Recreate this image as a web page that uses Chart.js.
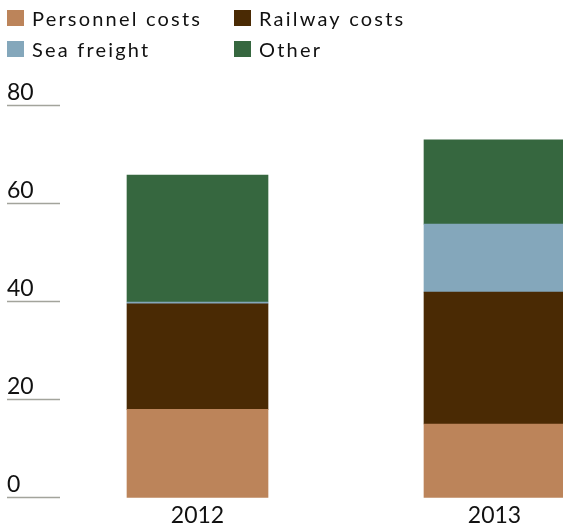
<!DOCTYPE html>
<html>
<head>
<meta charset="utf-8">
<script src="https://cdn.jsdelivr.net/npm/chart.js@4/dist/chart.umd.min.js"></script>
<style>
  html, body { margin: 0; padding: 0; background: #fff; }
  #wrap { position: relative; width: 563px; height: 527px; }
</style>
</head>
<body>
<div id="wrap"><canvas id="costChart"></canvas></div>
<script>
// Cost breakdown per year, stacked
const years = ['2012', '2013']
const personnelCosts = [18.0, 15.0]
const railwayCosts = [21.5, 26.9]
const seaFreight = [0.4, 13.9]
const otherCosts = [25.9, 17.2]
const yTicks = [0, 20, 40, 60, 80]

const FONT = 'Lato, "Open Sans", sans-serif'

// Short rules under each y value, labels sitting on top of them
const yRules = {
  id: 'yRules',
  afterDraw(chart) {
    const { ctx, scales: { y } } = chart
    ctx.save()
    ctx.strokeStyle = '#a3a49c'
    ctx.lineWidth = 1.5
    ctx.fillStyle = '#111'
    ctx.font = '23px ' + FONT
    ctx.textAlign = 'left'
    ctx.textBaseline = 'alphabetic'
    yTicks.forEach(v => {
      const py = y.getPixelForValue(v)
      ctx.beginPath()
      ctx.moveTo(7, py)
      ctx.lineTo(60, py)
      ctx.stroke()
      ctx.fillText(String(v), 7, py - 5.5)
    })
    ctx.restore()
  }
}

// Two-column legend
const gridLegend = {
  id: 'gridLegend',
  afterDraw(chart) {
    const { ctx } = chart
    ctx.save()
    ctx.font = '20px ' + FONT
    ctx.letterSpacing = '2.2px'
    ctx.textBaseline = 'alphabetic'
    chart.data.datasets.forEach((ds, i) => {
      const col = i % 2
      const row = Math.floor(i / 2)
      const bx = col === 0 ? 7 : 234
      const by = 10 + row * 31
      ctx.fillStyle = ds.backgroundColor
      ctx.fillRect(bx, by, 17, 16)
      ctx.fillStyle = '#111'
      ctx.fillText(ds.label, bx + 25, by + 16)
    })
    ctx.restore()
  }
}

const dataset = (label, data, color) => ({
  label, data,
  backgroundColor: color,
  borderWidth: 0,
  barThickness: 141,
  clip: false
})

new Chart(document.getElementById('costChart'), {
  type: 'bar',
  data: {
    labels: years,
    datasets: [
      dataset('Personnel costs', personnelCosts, '#bc845a'),
      dataset('Railway costs', railwayCosts, '#4a2a04'),
      dataset('Sea freight', seaFreight, '#84a7bb'),
      dataset('Other', otherCosts, '#36673f')
    ]
  },
  options: {
    responsive: true,
    maintainAspectRatio: false,
    animation: false,
    layout: { padding: { left: 197.5, right: 68.5, top: 105.5, bottom: -7.5 } },
    plugins: {
      legend: { display: false },
      tooltip: { enabled: false }
    },
    scales: {
      x: {
        stacked: true,
        offset: false,
        grid: { display: false, drawTicks: false },
        border: { display: false },
        ticks: { color: '#111', padding: 7, font: { family: FONT, size: 23, lineHeight: 1 } }
      },
      y: {
        stacked: true,
        display: false,
        min: 0,
        max: 80,
        ticks: { stepSize: 20 }
      }
    }
  },
  plugins: [yRules, gridLegend]
})
</script>
</body>
</html>
